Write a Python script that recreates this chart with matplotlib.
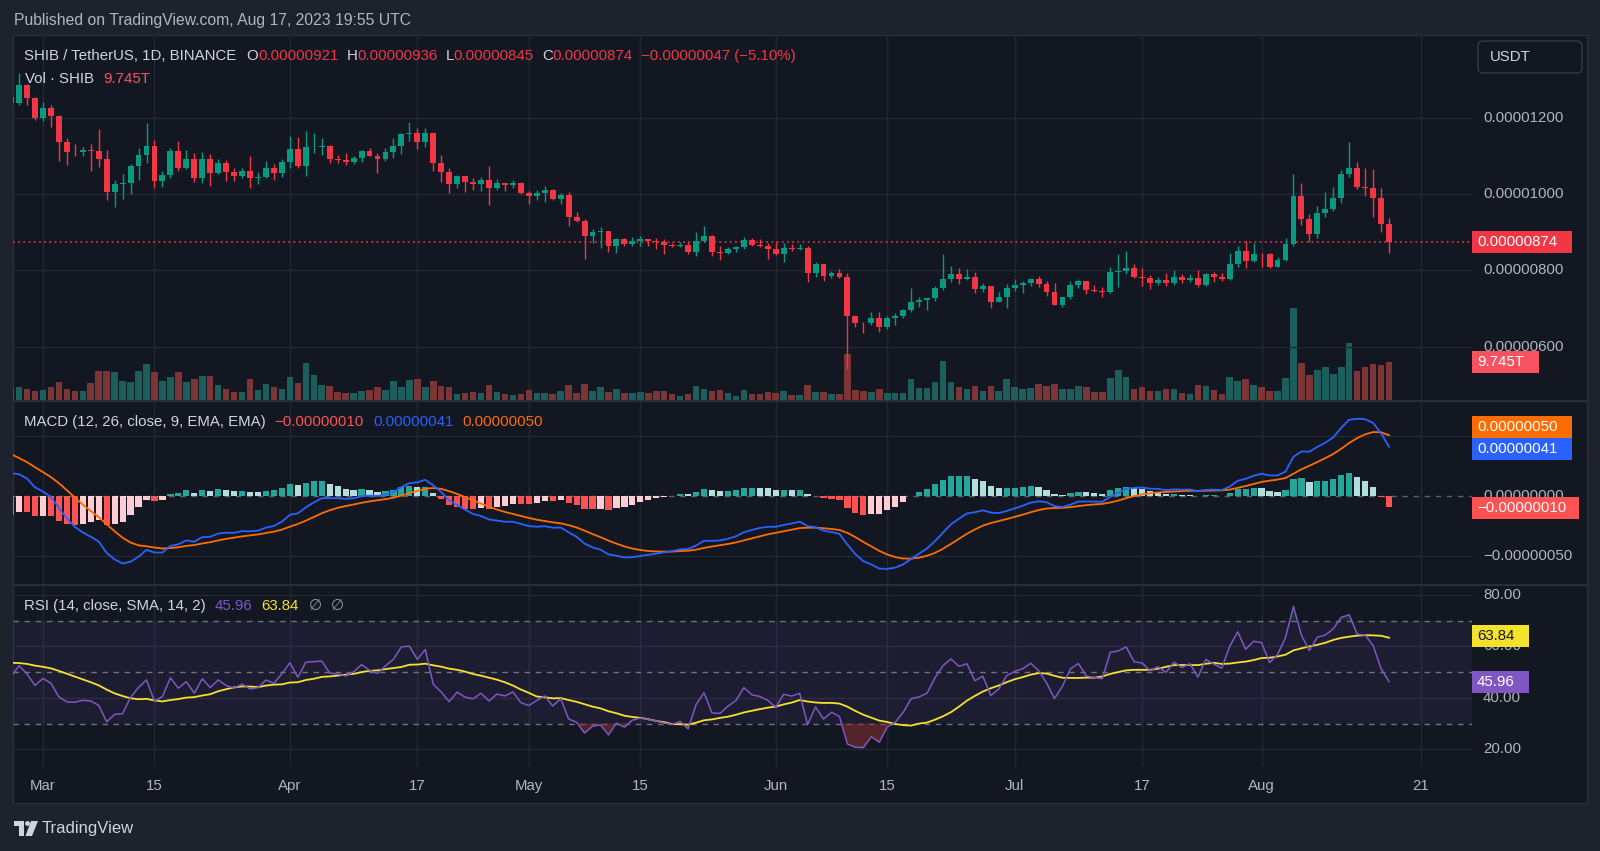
import matplotlib
matplotlib.use("Agg")
import matplotlib.pyplot as plt
from matplotlib.patches import Rectangle, Polygon, Circle, FancyBboxPatch
from matplotlib.transforms import Affine2D
import numpy as np
import pandas as pd

# ---- data (prices in units of 1e-8 USDT, volume in trillions) ----
START_DATE = "2023-02-25"

OPEN = [1255, 1238, 1286, 1251,
        1198, 1226, 1205, 1137, 1111, 1109, 1115, 1112, 1092, 1006, 1026, 1028, 1073, 1102, 1126, 1035,
        1050, 1113, 1069, 1092, 1041, 1093, 1054, 1082, 1058, 1047, 1060, 1041, 1045, 1067, 1056,
        1083, 1117, 1073, 1122, 1124, 1126, 1093, 1090, 1085, 1095, 1113, 1100, 1093, 1110, 1125,
        1157, 1159, 1135, 1159, 1080, 1057, 1026, 1047, 1031, 1026, 1037, 1015, 1028, 1023, 1030,
        1003, 995, 1003, 1010, 986, 997, 941, 930, 890, 900, 902, 865, 882, 868, 878,
        881, 877, 873, 867, 864, 867, 849, 876, 891, 847, 846, 855, 862, 879, 866, 863,
        856, 843, 858, 855, 858, 794, 816, 785, 794, 783, 681, 663, 661, 676, 652,
        674, 681, 696, 718, 721, 727, 753, 776, 790, 777, 782, 751, 759, 718, 729,
        753, 761, 766, 776, 764, 742, 709, 729, 761, 772, 748, 745, 743, 795, 798,
        807, 783, 781, 768, 775, 766, 783, 775, 781, 761, 790, 783, 777, 817, 851, 825,
        844, 842, 810, 827, 869, 996, 934, 894, 951, 961, 990, 1052, 1067, 1019, 1017, 990, 921]

HIGH = [1265, 1318, 1288, 1253,
        1242, 1232, 1207, 1146, 1131, 1122, 1131, 1170, 1115, 1037, 1052, 1078, 1120, 1187, 1142, 1060,
        1120, 1138, 1114, 1107, 1111, 1104, 1093, 1089, 1069, 1067, 1100, 1058, 1086, 1079, 1093,
        1152, 1149, 1165, 1159, 1148, 1128, 1102, 1107, 1100, 1115, 1120, 1107, 1121, 1148, 1161,
        1188, 1172, 1172, 1160, 1102, 1067, 1050, 1048, 1041, 1045, 1074, 1038, 1030, 1037, 1032,
        1007, 1010, 1021, 1013, 1003, 1004, 954, 934, 907, 914, 903, 884, 884, 888, 891,
        882, 884, 882, 872, 874, 874, 901, 917, 892, 865, 862, 865, 888, 886, 881, 871,
        875, 872, 869, 869, 865, 823, 817, 798, 803, 792, 683, 665, 692, 692, 680,
        687, 699, 753, 729, 728, 759, 844, 812, 805, 803, 796, 766, 760, 742, 763,
        776, 772, 777, 785, 773, 766, 731, 771, 777, 773, 761, 757, 809, 842, 851,
        816, 805, 788, 783, 792, 801, 790, 790, 801, 794, 796, 792, 845, 864, 878, 871,
        845, 845, 835, 884, 1052, 1028, 948, 969, 1006, 1018, 1063, 1137, 1083, 1067, 1066, 1017, 936]

LOW = [1232, 1233, 1233, 1194,
       1192, 1175, 1087, 1076, 1100, 1100, 1061, 1072, 983, 965, 987, 1000, 1037, 1082, 1015, 1019,
       1041, 1060, 1066, 1032, 1028, 1021, 1052, 1034, 1034, 1041, 1017, 1025, 1041, 1037, 1045,
       1067, 1069, 1047, 1107, 1102, 1082, 1080, 1076, 1079, 1084, 1099, 1056, 1087, 1094, 1105,
       1140, 1117, 1124, 1060, 1032, 1003, 1015, 1006, 1010, 1009, 971, 1010, 1009, 1017, 1000,
       974, 984, 980, 984, 975, 917, 927, 830, 871, 859, 847, 845, 865, 864, 864,
       865, 856, 844, 862, 862, 844, 838, 874, 837, 827, 843, 849, 857, 865, 861, 829,
       840, 823, 851, 853, 770, 783, 773, 779, 779, 541, 652, 637, 657, 639, 646,
       657, 674, 690, 703, 696, 720, 748, 770, 764, 775, 741, 744, 700, 716, 700,
       747, 740, 760, 757, 733, 709, 705, 724, 755, 737, 742, 731, 741, 757, 790,
       779, 760, 752, 761, 760, 761, 766, 770, 757, 759, 770, 772, 775, 810, 805, 821,
       810, 806, 809, 824, 865, 919, 875, 886, 941, 956, 977, 1044, 1014, 996, 941, 901, 845]

CLOSE = [1238, 1286, 1251, 1198,
         1226, 1205, 1137, 1111, 1109, 1115, 1112, 1092, 1006, 1026, 1028, 1073, 1102, 1126, 1035, 1050,
         1113, 1069, 1092, 1041, 1093, 1054, 1082, 1058, 1047, 1060, 1041, 1045, 1067, 1056, 1083,
         1117, 1073, 1122, 1124, 1126, 1093, 1090, 1085, 1095, 1113, 1100, 1093, 1110, 1125, 1157,
         1159, 1135, 1159, 1080, 1057, 1026, 1047, 1031, 1026, 1037, 1015, 1028, 1023, 1030, 1003,
         995, 1003, 1010, 986, 997, 941, 930, 890, 900, 902, 865, 882, 868, 878, 881,
         877, 873, 867, 864, 867, 849, 876, 891, 847, 846, 855, 862, 879, 866, 863, 856,
         843, 858, 855, 858, 794, 816, 785, 794, 783, 681, 663, 661, 676, 652, 674,
         681, 696, 718, 721, 727, 753, 776, 790, 777, 782, 751, 759, 718, 729, 753,
         761, 766, 776, 764, 742, 709, 729, 761, 772, 748, 745, 743, 795, 798, 807,
         783, 781, 768, 775, 766, 783, 775, 781, 761, 790, 783, 777, 817, 851, 825, 844,
         842, 810, 827, 869, 996, 934, 894, 951, 961, 990, 1052, 1067, 1019, 1017, 990, 921, 874]

VOLUME_T = [2.99, 3.25, 2.82, 2.39,
            2.57, 3.42, 4.70, 2.91, 2.22, 2.39, 4.28, 7.52, 7.52, 7.27, 4.87, 4.62, 7.52, 9.23, 7.27, 4.87,
            5.81, 7.10, 4.62, 5.30, 6.16, 6.16, 3.76, 2.82, 2.14, 1.97, 5.30, 2.57, 4.02, 3.25, 2.82,
            5.81, 4.45, 9.41, 6.41, 3.76, 3.59, 2.05, 1.88, 1.88, 2.22, 2.48, 3.42, 2.57, 4.96, 3.33,
            5.04, 5.30, 3.33, 4.79, 3.59, 3.42, 1.54, 1.71, 1.97, 1.88, 3.85, 2.05, 1.45, 1.28, 1.54,
            2.57, 1.71, 1.88, 1.54, 2.39, 3.85, 1.88, 4.10, 2.22, 3.42, 2.14, 2.82, 1.71, 1.71, 2.05,
            1.88, 2.39, 2.31, 1.45, 1.03, 1.54, 3.59, 2.74, 2.39, 2.57, 1.88, 1.03, 2.57, 1.54, 1.54, 2.05,
            1.88, 2.39, 1.20, 1.28, 3.85, 2.05, 2.05, 1.45, 1.54, 11.80, 2.57, 2.22, 2.05, 2.74, 1.88,
            1.71, 1.71, 5.39, 3.08, 3.08, 4.62, 10.0, 4.62, 3.42, 2.74, 3.59, 2.39, 3.59, 2.39, 5.30,
            3.25, 2.82, 2.99, 4.10, 3.59, 4.10, 2.74, 2.74, 3.59, 3.25, 2.05, 2.05, 5.64, 7.70, 5.81,
            2.91, 3.42, 2.39, 2.39, 2.74, 2.74, 1.88, 1.54, 3.93, 3.59, 2.57, 1.54, 5.81, 4.87, 5.30, 3.93,
            3.25, 2.31, 2.31, 5.64, 23.5, 9.58, 6.41, 7.70, 8.38, 6.67, 8.38, 14.5, 7.52, 8.38, 9.23, 8.89, 9.745]

# state of the indicators on the first visible bar
EMA12_SEED = 1279.0
EMA26_SEED = 1260.0
SIGNAL_SEED = 35.0
RSI_GAIN_SEED = 19.5
RSI_LOSS_SEED = 21.0
RSI_MA_SEED = 54.0

DATE_TICKS = ["2023-03-01", "2023-03-15", "2023-04-01", "2023-04-17", "2023-05-01", "2023-05-15",
              "2023-06-01", "2023-06-15", "2023-07-01", "2023-07-17", "2023-08-01", "2023-08-21"]
DATE_LABELS = ["Mar", "15", "Apr", "17", "May", "15", "Jun", "15", "Jul", "17", "Aug", "21"]
PRICE_TICKS = [600, 800, 1000, 1200]
MACD_TICKS = [-50, 0]          # the +50 label sits under the value tags
RSI_TICKS = [20, 40, 60, 80]

HEADER = "Published on TradingView.com, Aug 17, 2023 19:55 UTC"
SYMBOL = "SHIB / TetherUS, 1D, BINANCE"
OHLC_TEXT = [("O", "0.00000921"), ("H", "0.00000936"), ("L", "0.00000845"), ("C", "0.00000874")]
CHANGE_TEXT = "\u22120.00000047 (\u22125.10%)"
VOL_TEXT = "9.745T"
MACD_VALUES = ["\u22120.00000010", "0.00000041", "0.00000050"]
RSI_VALUES = ["45.96", "63.84"]

# ---- style ----
W, H = 1600, 851
BG_OUT = "#1e222d"
BG = "#131722"
GRID = "#232733"
BORDER = "#2a2e39"
TXT = "#d1d4dc"
AX_TXT = "#b2b5be"
UP = "#089981"
DOWN = "#f23645"
FS = 10.8

plt.rcParams["font.family"] = ["Liberation Sans", "DejaVu Sans"]

X0_PX, BAR_PX = 11.1, 7.965     # pixel of first bar, pixels per day
PLOT_L, PLOT_R = 13, 1472


def price_at(y):
    return 1000 + (194 - y) * 200 / 76.33


def macd_at(y):
    return (496 - y) * 50 / 60


def rsi_at(y):
    return 50 + (672 - y) / 2.575


# ---- indicators ----
o = np.array(OPEN, float)
hi = np.array(HIGH, float)
lo = np.array(LOW, float)
c = np.array(CLOSE, float)
vol = np.array(VOLUME_T, float)
n = len(c)
xs = np.arange(n)
dates = pd.date_range(START_DATE, periods=n, freq="D")


def ema_seeded(values, seed, span):
    a = 2.0 / (span + 1)
    out = np.empty(len(values))
    out[0] = seed
    for i in range(1, len(values)):
        out[i] = out[i - 1] + a * (values[i] - out[i - 1])
    return out


macd = ema_seeded(c, EMA12_SEED, 12) - ema_seeded(c, EMA26_SEED, 26)
signal = ema_seeded(macd, SIGNAL_SEED, 9)
hist = macd - signal

gain = np.empty(n)
loss = np.empty(n)
gain[0], loss[0] = RSI_GAIN_SEED, RSI_LOSS_SEED
for i in range(1, n):
    ch = c[i] - c[i - 1]
    gain[i] = (gain[i - 1] * 13 + max(ch, 0)) / 14
    loss[i] = (loss[i - 1] * 13 + max(-ch, 0)) / 14
rsi = 100 * gain / (gain + loss)
rsi_ma = pd.Series(np.concatenate([np.full(13, RSI_MA_SEED), rsi])).rolling(14).mean().to_numpy()[13:]

# ---- figure ----
fig = plt.figure(figsize=(W / 100, H / 100), dpi=100, facecolor=BG_OUT)
PIX = Affine2D().scale(1 / W, -1 / H).translate(0, 1) + fig.transFigure

fig.add_artist(Rectangle((13, 35), 1574, 768, transform=PIX, facecolor=BG,
                         edgecolor=BORDER, lw=1, zorder=-5))

xlim = ((PLOT_L - X0_PX) / BAR_PX, (PLOT_R - X0_PX) / BAR_PX)
tick_idx = [(pd.Timestamp(d) - dates[0]).days for d in DATE_TICKS]


def add_pane(top, bottom, ylim):
    ax = fig.add_axes([PLOT_L / W, 1 - bottom / H, (PLOT_R - PLOT_L) / W, (bottom - top) / H])
    ax.set_facecolor("none")
    ax.set_xlim(xlim)
    ax.set_ylim(ylim)
    for s in ax.spines.values():
        s.set_visible(False)
    ax.tick_params(left=False, bottom=False, right=False, labelleft=False,
                   labelbottom=False, labelright=False)
    return ax


def vgrid(ax):
    for t in tick_idx:
        ax.axvline(t, color=GRID, lw=1, zorder=0)


# main pane with volume underneath
ax_v = add_pane(35, 400, (0, 365 * 9.745 / 38.0))
ax_p = add_pane(35, 400, (price_at(400), price_at(35)))
ax_v.set_zorder(-1)
vgrid(ax_v)
for t in PRICE_TICKS:
    ax_p.axhline(t, color=GRID, lw=1, zorder=0)

up = c >= o
ax_v.bar(xs, vol, width=0.82, color=np.where(up, "#1c5e5b", "#7c3537"), lw=0)
cols = np.where(up, UP, DOWN)
ax_p.vlines(xs, lo, hi, colors=cols, lw=1.0, zorder=3)
ax_p.bar(xs, np.maximum(np.abs(c - o), 1.6), bottom=np.minimum(o, c), width=0.74,
         color=cols, lw=0, zorder=4)
ax_p.axhline(c[-1], color=DOWN, lw=1.1, ls=(0, (1.2, 2.2)), zorder=2)

# MACD pane
ax_m = add_pane(401, 584, (macd_at(584), macd_at(401)))
vgrid(ax_m)
for t in (-50, 50):
    ax_m.axhline(t, color=GRID, lw=1, zorder=0)
ax_m.axhline(0, color="#5d606b", lw=1, ls=(0, (4, 4)), zorder=1)
hcol = []
for i in range(n):
    prev = hist[i - 1] if i else hist[i]
    if hist[i] >= 0:
        hcol.append("#26a69a" if hist[i] > prev else "#b2dfdb")
    else:
        hcol.append("#ffcdd2" if hist[i] > prev else "#ff5252")
ax_m.bar(xs, hist, width=0.78, color=hcol, lw=0, zorder=2)
ax_m.plot(xs, macd, color="#2962ff", lw=1.3, zorder=4)
ax_m.plot(xs, signal, color="#ff6d00", lw=1.3, zorder=3)

# RSI pane
ax_r = add_pane(585, 767, (rsi_at(767), rsi_at(585)))
vgrid(ax_r)
for t in RSI_TICKS:
    ax_r.axhline(t, color=GRID, lw=1, zorder=0)
ax_r.axhspan(30, 70, color="#7e57c2", alpha=0.1, lw=0, zorder=0)
for t in (30, 50, 70):
    ax_r.axhline(t, color="#6f727c", lw=1, ls=(0, (4, 4)), zorder=1)
ax_r.fill_between(xs, rsi, 30, where=rsi < 30, interpolate=True, color="#8c2f2f", alpha=0.55, lw=0, zorder=1)
ax_r.fill_between(xs, rsi, 70, where=rsi > 70, interpolate=True, color="#1b6b5a", alpha=0.35, lw=0, zorder=1)
ax_r.plot(xs, rsi_ma, color="#f5e22c", lw=1.3, zorder=3)
ax_r.plot(xs, rsi, color="#7e57c2", lw=1.1, zorder=4)

# pane separators
for y in (400, 584):
    fig.add_artist(Rectangle((13, y), 1574, 1.6, transform=PIX, facecolor=BORDER, lw=0, zorder=2))


# ---- texts ----
renderer = fig.canvas.get_renderer()


def segments(x, y, parts, size=FS):
    for text, color, gap in parts:
        t = fig.text(x / W, 1 - y / H, text, color=color, fontsize=size, va="center", ha="left")
        x += t.get_window_extent(renderer=renderer).width + gap


def ypix(ax, v):
    return H - ax.transData.transform((0, v))[1]


def axis_labels(ax, ticks, fmt):
    for t in ticks:
        fig.text(1483 / W, 1 - ypix(ax, t) / H, fmt(t), color=AX_TXT, fontsize=FS, va="center", ha="left", zorder=3)


def price_fmt(v):
    return f"{v * 1e-8:.8f}".replace("-", "\u2212")


def tag(x1, yc, face, text, tcolor, hgt=22):
    fig.add_artist(Rectangle((PLOT_R, yc - hgt / 2), x1 - PLOT_R, hgt, transform=PIX,
                             facecolor=face, lw=0, zorder=5))
    fig.text((PLOT_R + 5) / W, 1 - yc / H, text, color=tcolor, fontsize=FS, va="center", ha="left", zorder=6)


fig.text(14 / W, 1 - 20 / H, HEADER, color=AX_TXT, fontsize=11.3, va="center", ha="left")

parts = [(SYMBOL, TXT, 10)]
for letter, val in OHLC_TEXT:
    parts += [(letter, TXT, 0), (val, DOWN, 8)]
parts.append((CHANGE_TEXT, DOWN, 0))
segments(24, 56, parts)
segments(25, 79, [("Vol \u00b7 SHIB", TXT, 9), (VOL_TEXT, "#f7525f", 0)])
segments(24, 422, [("MACD (12, 26, close, 9, EMA, EMA)", TXT, 9), (MACD_VALUES[0], "#ff5252", 9),
                   (MACD_VALUES[1], "#2962ff", 9), (MACD_VALUES[2], "#ff6d00", 0)])
segments(24, 606, [("RSI (14, close, SMA, 14, 2)", TXT, 9), (RSI_VALUES[0], "#7e57c2", 9),
                   (RSI_VALUES[1], "#f5e22c", 10), ("\u2205", "#9598a1", 9), ("\u2205", "#9598a1", 0)])

axis_labels(ax_p, PRICE_TICKS, price_fmt)
axis_labels(ax_m, MACD_TICKS, price_fmt)
axis_labels(ax_r, RSI_TICKS, lambda v: f"{v:.2f}")

tag(1572, ypix(ax_p, c[-1]), DOWN, price_fmt(c[-1]), "white")
tag(1539, ypix(ax_v, vol[-1]), "#f7525f", VOL_TEXT, "white")
tag(1572, ypix(ax_m, 57.5), "#ff6d00", MACD_VALUES[2], "white")
tag(1572, ypix(ax_m, 39.0), "#2962ff", MACD_VALUES[1], "white")
tag(1579, ypix(ax_m, -10.0), "#ff5252", MACD_VALUES[0], "white")
tag(1529, ypix(ax_r, 63.84), "#f5e22c", RSI_VALUES[1], "#131722")
tag(1529, ypix(ax_r, 45.96), "#7e57c2", RSI_VALUES[0], "white")

# currency button
fig.add_artist(FancyBboxPatch((1478, 41), 104, 32, boxstyle="round,pad=0,rounding_size=5",
                              transform=PIX, facecolor=BG, edgecolor="#363a45", lw=1, zorder=4))
fig.text(1490 / W, 1 - 57 / H, "USDT", color=TXT, fontsize=FS, va="center", ha="left", zorder=5)

# date axis
for t, lab in zip(tick_idx, DATE_LABELS):
    xp = X0_PX + t * BAR_PX
    fig.text(xp / W, 1 - 786 / H, lab, color=AX_TXT, fontsize=FS, va="center", ha="center")

# footer logo
fig.add_artist(Polygon([(14, 821), (24, 821), (24, 836), (19, 836), (19, 826), (14, 826)],
                       closed=True, transform=PIX, facecolor=TXT, lw=0))
fig.add_artist(Circle((27.5, 823.5), 2.4, transform=PIX, facecolor=TXT, lw=0))
fig.add_artist(Polygon([(31, 821), (38, 821), (32, 836), (25.5, 836)],
                       closed=True, transform=PIX, facecolor=TXT, lw=0))
fig.text(42 / W, 1 - 829 / H, "TradingView", color=TXT, fontsize=12, va="center", ha="left")

fig.savefig("out.png", dpi=100, facecolor=BG_OUT)
